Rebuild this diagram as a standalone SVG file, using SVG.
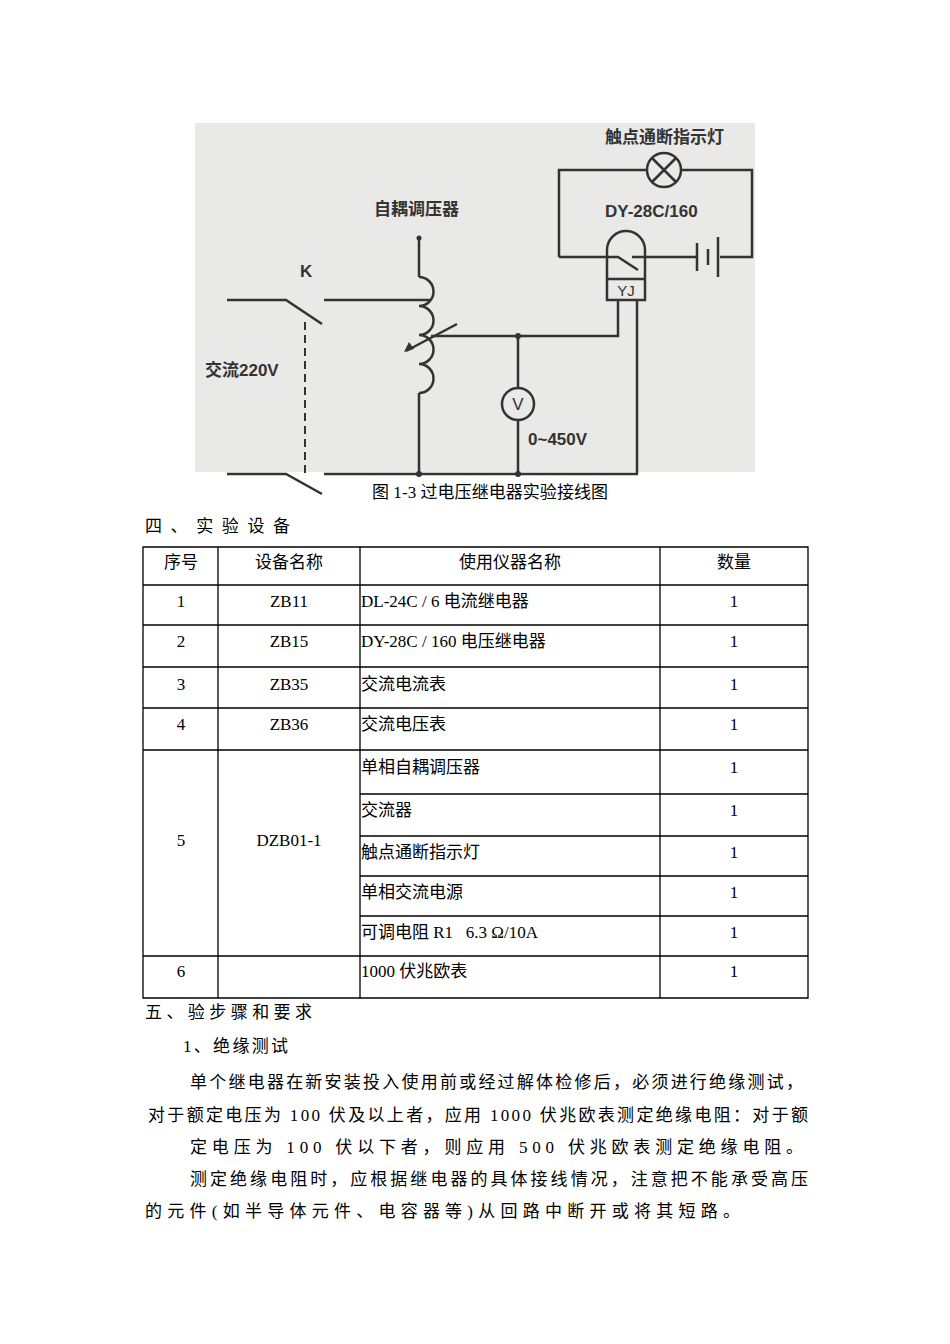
<svg xmlns="http://www.w3.org/2000/svg" width="950" height="1344" viewBox="0 0 950 1344">
<style>
.w{fill:none;stroke:#333;stroke-width:2.5}
.d{font-family:"Liberation Sans","Noto Sans CJK SC",sans-serif;font-weight:bold;fill:#333;font-size:17px}
.t{font-family:"Liberation Serif","Noto Sans CJK SC",serif;font-size:17px;fill:#000}
.c{text-anchor:middle}
.g{stroke:#000;stroke-width:1.3;fill:none}
</style>
<rect width="950" height="1344" fill="#fff"/>
<g id="figure">
<rect x="195" y="123" width="560" height="349" fill="#e9e9e7"/>
<g id="connectors">
<path class="w" d="M227 300H286L322 324M324 300H431M227 474H286L322 494M324 474H638M419 238V277M419 393V474"/>
<path d="M305 322V474" stroke="#333" stroke-width="2" stroke-dasharray="8,5" fill="none"/>
<path class="w" d="M431 336H618V300M518 336V388M518 420V474M637 300V474"/>
<path class="w" d="M559 257V170H647M681 170H752V257H720M697 257H632M559 257H618L638 270"/>
</g>
<g id="transformer">
<circle cx="419" cy="238" r="2.5" fill="#333"/>
<path class="w" d="M419 277A14.5 14.5 0 0 1 419 306A14.5 14.5 0 0 1 419 335A14.5 14.5 0 0 1 419 364A14.5 14.5 0 0 1 419 393"/>
<path class="w" d="M457 324L406 351"/>
<path d="M404 352L409 342L414 349Z" fill="#333"/>
<text class="d" x="374" y="215">自耦调压器</text>
</g>
<g id="switch"><text class="d" x="300" y="277">K</text><text class="d" x="205" y="376">交流220V</text></g>
<g id="dots"><circle cx="518" cy="336" r="3" fill="#333"/><circle cx="518" cy="474" r="3" fill="#333"/><circle cx="419" cy="474" r="3" fill="#333"/></g>
<g id="voltmeter"><circle class="w" cx="518" cy="404" r="16"/><text class="d c" x="518" y="410" style="font-weight:normal">V</text><text class="d" x="528" y="445">0~450V</text></g>
<g id="relay">
<path class="w" d="M607 300V250A19 19 0 0 1 645 250V300ZM607 279H645"/>
<text class="d c" x="626" y="296" style="font-weight:normal;font-size:15px">YJ</text>
<text class="d" x="605" y="217">DY-28C/160</text>
</g>
<g id="battery"><path class="w" d="M697 243V271M708 249V265M718 237V277"/></g>
<g id="lamp"><circle class="w" cx="664" cy="170" r="17"/><path class="w" d="M652 158L676 182M676 158L652 182"/><text class="d" x="605" y="143">触点通断指示灯</text></g>
</g>
<g id="text">
<text class="t" x="372" y="498" textLength="236" font-size="15">图 1-3 过电压继电器实验接线图</text>
<text class="t" x="145" y="532" textLength="145">四、实验设备</text>
</g>
<g id="table">
<path class="g" d="M143 547H808V998H143ZM143 585H808M143 625H808M143 667H808M143 708H808M143 750H808M360 794H808M360 836H808M360 876H808M360 916H808M143 956H808M218 547V998M360 547V998M660 547V998"/>
<g class="t c">
<text x="181" y="568">序号</text><text x="289" y="568">设备名称</text><text x="510" y="568">使用仪器名称</text><text x="734" y="568">数量</text>
<text x="181" y="607">1</text><text x="289" y="607">ZB11</text><text x="734" y="607">1</text>
<text x="181" y="647">2</text><text x="289" y="647">ZB15</text><text x="734" y="647">1</text>
<text x="181" y="690">3</text><text x="289" y="690">ZB35</text><text x="734" y="690">1</text>
<text x="181" y="730">4</text><text x="289" y="730">ZB36</text><text x="734" y="730">1</text>
<text x="181" y="846">5</text><text x="289" y="846">DZB01-1</text>
<text x="734" y="773">1</text><text x="734" y="816">1</text><text x="734" y="858">1</text><text x="734" y="898">1</text><text x="734" y="938">1</text>
<text x="181" y="977">6</text><text x="734" y="977">1</text>
</g>
<g class="t">
<text x="361" y="607">DL-24C / 6 电流继电器</text>
<text x="361" y="647">DY-28C / 160 电压继电器</text>
<text x="361" y="690">交流电流表</text>
<text x="361" y="730">交流电压表</text>
<text x="361" y="773">单相自耦调压器</text>
<text x="361" y="816">交流器</text>
<text x="361" y="858">触点通断指示灯</text>
<text x="361" y="898">单相交流电源</text>
<text x="361" y="938" xml:space="preserve">可调电阻 R1   6.3 Ω/10A</text>
<text x="361" y="977">1000 伏兆欧表</text>
</g>
</g>
<g id="body" class="t">
<text x="145" y="1018" textLength="167">五、验步骤和要求</text>
<text x="183" y="1052" textLength="105">1、绝缘测试</text>
<text x="190" y="1088" textLength="613">单个继电器在新安装投入使用前或经过解体检修后，必须进行绝缘测试，</text>
<text x="148" y="1121" textLength="660">对于额定电压为 100 伏及以上者，应用 1000 伏兆欧表测定绝缘电阻：对于额</text>
<text x="190" y="1153" textLength="613">定电压为 100 伏以下者，则应用 500 伏兆欧表测定绝缘电阻。</text>
<text x="190" y="1185" textLength="618">测定绝缘电阻时，应根据继电器的具体接线情况，注意把不能承受高压</text>
<text x="145" y="1217" textLength="595">的元件(如半导体元件、电容器等)从回路中断开或将其短路。</text>
</g>
</svg>
